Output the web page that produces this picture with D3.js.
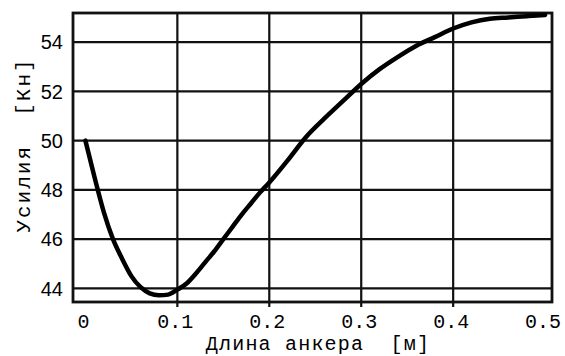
<!DOCTYPE html>
<html>
<head>
<meta charset="utf-8">
<script src="https://cdn.jsdelivr.net/npm/d3@7"></script>
<style>
  body { margin: 0; background: #fff; }
  svg { display: block; }
  text { white-space: pre; }
</style>
</head>
<body>
<div id="chart"></div>
<script>
// anchor length [m] and force [kN]
var lengths = [0, 0.01, 0.02, 0.03, 0.04, 0.05, 0.06, 0.07, 0.08, 0.09, 0.10,
               0.11, 0.12, 0.13, 0.14, 0.15, 0.16, 0.17, 0.18, 0.19, 0.20,
               0.22, 0.24, 0.26, 0.28, 0.30, 0.32, 0.34, 0.36, 0.38, 0.40,
               0.42, 0.44, 0.46, 0.48, 0.50]
var forces = [50.0, 48.5, 47.1, 46.0, 45.2, 44.5, 44.05, 43.8, 43.72, 43.75, 43.95,
              44.2, 44.6, 45.05, 45.5, 46.0, 46.5, 47.0, 47.45, 47.9, 48.3,
              49.2, 50.15, 50.9, 51.6, 52.3, 52.9, 53.4, 53.85, 54.2, 54.55,
              54.8, 54.95, 55.0, 55.05, 55.1]
var xTicks = [0, 0.1, 0.2, 0.3, 0.4, 0.5]
var yTicks = [44, 46, 48, 50, 52, 54]
var xTitle = "Длина анкера  [м]"
var yTitle = "Усилия  [Кн]"

var width = 565,
    height = 356
var plotLeft = 73, plotRight = 552, plotTop = 13, plotBottom = 302

var svg = d3.select("#chart").append("svg")
    .attr("width", width)
    .attr("height", height)

var x = d3.scaleLinear().domain([-0.0135, 0.5075]).range([plotLeft, plotRight])
var y = d3.scaleLinear().domain([43.45, 55.18]).range([plotBottom, plotTop])

// grid lines
svg.selectAll("vgrid")
  .data(xTicks.filter(function(d){ return d > 0 && d < 0.5 }))
  .enter()
  .append("line")
    .attr("x1", function(d){ return x(d) })
    .attr("x2", function(d){ return x(d) })
    .attr("y1", plotTop)
    .attr("y2", plotBottom + 5)
    .attr("stroke", "#111")
    .attr("stroke-width", 2.2)

svg.selectAll("hgrid")
  .data(yTicks)
  .enter()
  .append("line")
    .attr("x1", plotLeft)
    .attr("x2", plotRight)
    .attr("y1", function(d){ return y(d) })
    .attr("y2", function(d){ return y(d) })
    .attr("stroke", "#111")
    .attr("stroke-width", 2.2)

// frame
svg.append("rect")
    .attr("x", plotLeft)
    .attr("y", plotTop)
    .attr("width", plotRight - plotLeft)
    .attr("height", plotBottom - plotTop)
    .attr("fill", "none")
    .attr("stroke", "#111")
    .attr("stroke-width", 2.8)

// curve
var line = d3.line()
    .x(function(d){ return x(d[0]) })
    .y(function(d){ return y(d[1]) })
    .curve(d3.curveMonotoneX)

svg.append("path")
    .datum(d3.zip(lengths, forces))
    .attr("d", line)
    .attr("fill", "none")
    .attr("stroke", "#000")
    .attr("stroke-width", 4.5)
    .attr("stroke-linecap", "round")

// tick labels
svg.selectAll("xlabels")
  .data(xTicks)
  .enter()
  .append("text")
    .attr("x", function(d){ return x(d) - 2 })
    .attr("y", 328)
    .attr("text-anchor", "middle")
    .style("font-family", "Liberation Mono, monospace")
    .style("font-size", "20px")
    .text(function(d){ return d === 0 ? "0" : d3.format(".1f")(d) })

svg.selectAll("ylabels")
  .data(yTicks)
  .enter()
  .append("text")
    .attr("x", 63)
    .attr("y", function(d){ return y(d) })
    .attr("dy", "0.36em")
    .attr("text-anchor", "end")
    .style("font-family", "Liberation Sans, Arial, sans-serif")
    .style("font-size", "20px")
    .text(function(d){ return d })

// axis titles
svg.append("text")
    .attr("x", 318)
    .attr("y", 350)
    .attr("text-anchor", "middle")
    .style("font-family", "Liberation Mono, monospace")
    .style("font-size", "20px")
    .style("letter-spacing", "1.2px")
    .text(xTitle)

svg.append("text")
    .attr("transform", "translate(30,145) rotate(-90)")
    .attr("text-anchor", "middle")
    .style("font-family", "Liberation Mono, monospace")
    .style("font-size", "21px")
    .style("letter-spacing", "2px")
    .text(yTitle)
</script>
</body>
</html>
